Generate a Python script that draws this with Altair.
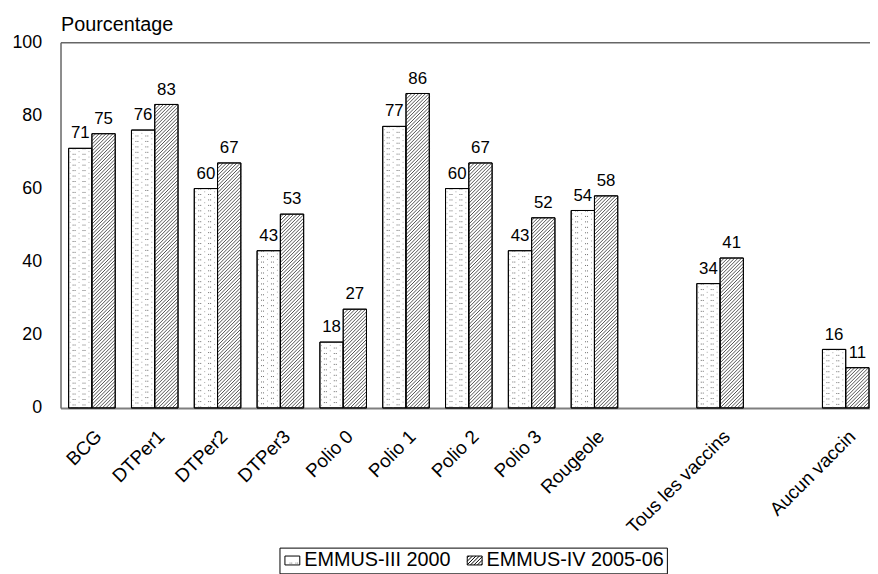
import json
import altair as alt
import pandas as pd

# ---------------- data ----------------
order = ["BCG", "DTPer1", "DTPer2", "DTPer3", "Polio 0", "Polio 1", "Polio 2",
         "Polio 3", "Rougeole", "", "Tous les vaccins", "", "Aucun vaccin"]
categories = [c for c in order if c]
v2000 = [71, 76, 60, 43, 18, 77, 60, 43, 54, 34, 16]
v2005 = [75, 83, 67, 53, 27, 86, 67, 52, 58, 41, 11]
series = ["EMMUS-III 2000", "EMMUS-IV 2005-06"]

rows = []
for c, a, b in zip(categories, v2000, v2005):
    s = order.index(c)
    rows.append(dict(cat=c, slot=s, series=series[0], sidx=0, value=a))
    rows.append(dict(cat=c, slot=s, series=series[1], sidx=1, value=b))
df = pd.DataFrame(rows)

# ---------------- geometry / style ----------------
FONT = "Liberation Sans"
W, H = 817, 369
P = 63.4                 # px per category slot
XMAX = W / P
PPU = H / 100.0          # px per percent
GAPP, BWP = 8.2, 23.5    # px
GAP, BWS = GAPP / P, BWP / P
S = 3.5                  # hatch spacing px

xscale = alt.Scale(domain=[0, XMAX], nice=False, zero=False)
yscale = alt.Scale(domain=[0, 100], nice=False)

tickvals = [order.index(c) + 0.5 for c in categories]
xaxis = alt.Axis(values=tickvals, labelExpr=f"{json.dumps(order)}[floor(datum.value)]",
                 title=None, labelAngle=-45, labelAlign="right", labelBaseline="top",
                 labelFontSize=19, labelPadding=19, labelOffset=0, ticks=False, tickSize=0,
                 domainColor="#7f7f7f", domainWidth=2, grid=False, labelFlush=False,
                 labelOverlap=False, labelBound=False, labelColor="black", labelFont=FONT)
yaxis = alt.Axis(values=[0, 20, 40, 60, 80, 100], title="Pourcentage", titleAngle=0,
                 titleAlign="left", titleX=0, titleY=-12, titleBaseline="alphabetic",
                 titleFontSize=20, titleFontWeight="normal", titleFont=FONT, titleColor="black",
                 labelFontSize=18, labelPadding=19, ticks=False, tickSize=0,
                 domainColor="#666666", domainWidth=1.5, grid=True,
                 gridColor={"condition": {"test": "datum.value === 100", "value": "#666666"},
                            "value": "transparent"},
                 gridWidth=1.5, labelColor="black", labelFont=FONT)


def X(field):
    return alt.X(field, scale=xscale, axis=xaxis)


def Y(field):
    return alt.Y(field, scale=yscale, axis=yaxis)


base = alt.Chart(df).transform_calculate(
    xl=f"datum.slot + {GAP} + datum.sidx * {BWS}"
).transform_calculate(
    xr=f"datum.xl + {BWS}"
).transform_calculate(
    xc=f"datum.xl + {BWS / 2}"
)

bars = base.mark_rect(fill="white", stroke="black", strokeWidth=1).encode(
    x=X("xl:Q"), x2="xr:Q", y=Y("value:Q"), y2=alt.datum(0),
)


# dotted pattern for first series
def dots(offsets, color, dash_offset):
    return base.transform_filter("datum.sidx == 0").transform_calculate(
        cols=json.dumps(offsets)
    ).transform_flatten(["cols"], as_=["col"]).transform_calculate(
        dx=f"datum.xl + datum.col / {P}"
    ).mark_rule(color=color, strokeWidth=1, strokeDash=[1, 4.5], strokeDashOffset=dash_offset).encode(
        x=X("dx:Q"), y=Y("value:Q"), y2=alt.datum(0),
    )


dots_a = dots([4.5, 6.5, 14.5, 16.5], "#6a6a6a", 0)
dots_b = dots([1.5, 10.5, 20.5], "#a8a8a8", 2.7)

# diagonal hatch for second series
hatch = base.transform_filter("datum.sidx == 1").transform_calculate(
    hp=f"datum.value * {PPU}"
).transform_calculate(
    ks=f"sequence(floor(-{BWP} / {S}), ceil(datum.hp / {S}) + 1)"
).transform_flatten(["ks"], as_=["k"]).transform_calculate(
    d=f"datum.k * {S}"
).transform_calculate(
    x1p="max(0, -datum.d)"
).transform_calculate(
    x2p=f"min({BWP}, datum.hp - datum.d)"
).transform_filter("datum.x2p > datum.x1p").transform_calculate(
    hx1=f"datum.xl + datum.x1p / {P}"
).transform_calculate(
    hx2=f"datum.xl + datum.x2p / {P}"
).transform_calculate(
    hy1=f"(datum.x1p + datum.d) / {PPU}"
).transform_calculate(
    hy2=f"(datum.x2p + datum.d) / {PPU}"
).mark_rule(color="#333333", strokeWidth=0.85).encode(
    x=X("hx1:Q"), x2="hx2:Q", y=Y("hy1:Q"), y2="hy2:Q",
)

outline = base.mark_rect(fillOpacity=0, stroke="black", strokeWidth=1).encode(
    x=X("xl:Q"), x2="xr:Q", y=Y("value:Q"), y2=alt.datum(0),
)

labels = base.mark_text(fontSize=17, baseline="alphabetic", dy=-10, color="black", font=FONT).encode(
    x=X("xc:Q"), y=Y("value:Q"),
    text=alt.Text("value:Q", format=".0f"),
)

# legend swatches (custom symbol paths)
rect = "M-1,-0.6L1,-0.6L1,0.6L-1,0.6Z"
hpath = rect
step = 3.5 / 7.5
c = -1.6 + step / 2
while c < 1.6:
    x1, x2 = max(-1, c - 0.6), min(1, c + 0.6)
    if x2 > x1:
        hpath += f"M{x1:.3f},{c - x1:.3f}L{x2:.3f},{c - x2:.3f}"
    c += step
dpath = rect + "M-0.35,0.35L-0.28,0.35M-0.1,0.35L-0.03,0.35M0.45,0.35L0.52,0.35M0.7,0.35L0.77,0.35"

legend = alt.Legend(orient="none", legendX=221, legendY=510, direction="horizontal", title=None,
                    labelFontSize=20, labelFont=FONT, labelColor="black", symbolSize=225,
                    symbolStrokeColor="black", symbolStrokeWidth=1,
                    symbolOpacity=1, strokeColor="black", padding=3, labelOffset=2,
                    columnPadding=14, labelLimit=0)

leg = base.transform_filter("false").mark_point(filled=False, color="black",
                                                strokeWidth=1, opacity=1).encode(
    x=X("xc:Q"), y=Y("value:Q"),
    shape=alt.Shape("series:N", scale=alt.Scale(domain=series, range=[dpath, hpath]), legend=legend),
)

chart = alt.layer(bars, dots_a, dots_b, hatch, outline, labels, leg).properties(
    width=W, height=H,
    padding={"left": 53, "top": 32, "right": 0, "bottom": 165},
    autosize=alt.AutoSizeParams(type="none"),
).configure(font=FONT).configure_view(strokeWidth=0)

chart.save("out.html", embed_options={"renderer": "svg", "actions": False})
